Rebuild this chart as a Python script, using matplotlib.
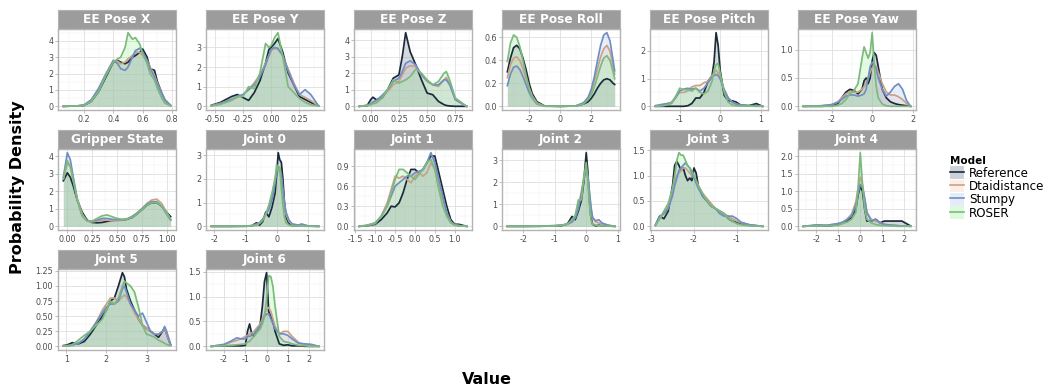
import numpy as np
import matplotlib
matplotlib.use("Agg")
import matplotlib.pyplot as plt
from matplotlib.patches import Rectangle, Patch
from matplotlib.lines import Line2D
from matplotlib.ticker import MultipleLocator

plt.rcParams["font.family"] = "DejaVu Sans"
plt.rcParams["axes.unicode_minus"] = False

models = ["Reference", "Dtaidistance", "Stumpy", "ROSER"]
line_colors = ["#1c2a3b", "#c9a28a", "#6f8fc3", "#7cba7c"]
fill_colors = ["#5d6d7e", "#f5c7a9", "#a8c2ee", "#90f090"]

# --- density curves, one x grid + four models per variable ---
pose_x_x = [0.06, 0.15, 0.2, 0.25, 0.3, 0.35, 0.4, 0.43, 0.45, 0.48, 0.5, 0.53, 0.55, 0.58, 0.6, 0.63, 0.65, 0.68, 0.7, 0.73, 0.75, 0.79]
pose_x_ref = [0, 0.02, 0.05, 0.3, 0.9, 1.8, 2.7, 2.8, 2.7, 2.6, 2.7, 3.0, 3.1, 3.3, 3.5, 3.0, 2.3, 2.2, 1.5, 0.8, 0.4, 0.05]
pose_x_dtai = [0, 0.02, 0.08, 0.35, 1.0, 1.9, 2.8, 2.75, 2.6, 2.7, 2.9, 3.1, 3.3, 3.3, 3.1, 2.8, 2.4, 1.9, 1.4, 0.8, 0.4, 0.05]
pose_x_stumpy = [0, 0.02, 0.08, 0.4, 1.1, 2.0, 2.8, 2.6, 2.3, 2.2, 2.4, 3.0, 3.4, 3.55, 3.3, 2.8, 2.3, 1.8, 1.3, 0.8, 0.4, 0.05]
pose_x_roser = [0, 0.02, 0.05, 0.3, 0.9, 1.9, 2.7, 2.9, 3.0, 3.6, 4.5, 4.1, 4.2, 3.8, 3.2, 2.6, 2.0, 1.6, 1.1, 0.5, 0.2, 0.02]

pose_y_x = [-0.53, -0.45, -0.4, -0.35, -0.3, -0.25, -0.2, -0.15, -0.1, -0.05, -0.02, 0.0, 0.03, 0.06, 0.1, 0.15, 0.2, 0.25, 0.3, 0.35, 0.42]
pose_y_ref = [0.05, 0.2, 0.35, 0.5, 0.6, 0.45, 0.3, 0.7, 1.3, 2.2, 2.9, 3.0, 3.2, 3.45, 2.8, 1.7, 1.1, 0.5, 0.35, 0.2, 0.02]
pose_y_dtai = [0.03, 0.15, 0.25, 0.35, 0.45, 0.6, 0.85, 1.2, 1.6, 2.2, 2.6, 2.85, 2.95, 2.9, 2.6, 1.9, 1.2, 0.6, 0.45, 0.3, 0.02]
pose_y_stumpy = [0.03, 0.15, 0.25, 0.35, 0.5, 0.6, 0.85, 1.1, 1.5, 2.1, 2.6, 2.9, 3.0, 2.95, 2.6, 1.8, 1.1, 0.6, 0.85, 0.6, 0.02]
pose_y_roser = [0.02, 0.1, 0.2, 0.3, 0.5, 0.5, 1.0, 0.9, 1.7, 3.2, 3.0, 3.1, 3.5, 3.75, 2.6, 1.0, 0.7, 0.4, 0.2, 0.08, 0.01]

pose_z_x = [-0.1, -0.03, 0.0, 0.02, 0.05, 0.1, 0.15, 0.2, 0.25, 0.28, 0.31, 0.35, 0.4, 0.45, 0.5, 0.55, 0.6, 0.65, 0.67, 0.7, 0.75, 0.85]
pose_z_ref = [0, 0.05, 0.4, 0.55, 0.4, 0.5, 1.0, 1.7, 1.9, 3.0, 4.45, 3.3, 2.5, 1.6, 0.8, 0.7, 0.3, 0.1, 0.05, 0.02, 0.0, 0]
pose_z_dtai = [0, 0.05, 0.15, 0.25, 0.35, 0.6, 0.9, 1.3, 1.5, 1.9, 2.3, 2.45, 2.4, 1.9, 1.5, 1.3, 1.2, 1.6, 1.75, 1.4, 0.4, 0]
pose_z_stumpy = [0, 0.05, 0.15, 0.25, 0.35, 0.65, 1.0, 1.5, 1.7, 2.1, 2.6, 2.75, 2.5, 1.9, 1.55, 1.3, 1.3, 1.6, 1.6, 1.3, 0.4, 0]
pose_z_roser = [0, 0.05, 0.1, 0.15, 0.2, 0.5, 1.0, 1.6, 1.4, 1.5, 1.6, 1.8, 2.25, 2.0, 1.6, 1.3, 1.5, 2.0, 2.1, 1.6, 0.5, 0]

roll_x = [-3.4, -3.2, -3.0, -2.8, -2.6, -2.4, -2.2, -2.0, -1.8, -1.5, -1.0, 0, 1.0, 1.5, 1.8, 2.0, 2.2, 2.4, 2.6, 2.8, 3.0, 3.2, 3.4, 3.5]
roll_ref = [0.30, 0.42, 0.51, 0.53, 0.50, 0.42, 0.32, 0.20, 0.11, 0.04, 0.003, 0, 0.003, 0.02, 0.04, 0.07, 0.11, 0.16, 0.2, 0.23, 0.24, 0.23, 0.2, 0.19]
roll_dtai = [0.25, 0.36, 0.42, 0.43, 0.40, 0.33, 0.24, 0.16, 0.09, 0.03, 0.002, 0, 0.003, 0.03, 0.07, 0.13, 0.22, 0.33, 0.43, 0.50, 0.53, 0.48, 0.35, 0.28]
roll_stumpy = [0.18, 0.28, 0.34, 0.35, 0.32, 0.26, 0.19, 0.12, 0.07, 0.02, 0.001, 0, 0.003, 0.03, 0.08, 0.15, 0.26, 0.40, 0.53, 0.62, 0.64, 0.57, 0.40, 0.31]
roll_roser = [0.39, 0.55, 0.62, 0.60, 0.52, 0.40, 0.27, 0.16, 0.08, 0.02, 0.001, 0, 0.002, 0.02, 0.06, 0.10, 0.17, 0.26, 0.35, 0.42, 0.44, 0.40, 0.30, 0.24]

pitch_x = [-1.6, -1.4, -1.2, -1.1, -1.0, -0.9, -0.8, -0.7, -0.6, -0.5, -0.4, -0.3, -0.2, -0.15, -0.1, -0.05, 0.0, 0.1, 0.2, 0.3, 0.4, 0.5, 0.7, 0.9, 0.95, 1.05]
pitch_ref = [0, 0, 0, 0, 0, 0, 0.02, 0.1, 0.3, 0.3, 0.5, 0.9, 1.1, 1.6, 2.65, 2.2, 1.3, 0.4, 0.2, 0.2, 0.15, 0.05, 0.02, 0.1, 0.06, 0]
pitch_dtai = [0.02, 0.05, 0.15, 0.35, 0.5, 0.5, 0.55, 0.7, 0.75, 0.75, 0.85, 0.9, 1.1, 1.2, 1.3, 1.2, 1.0, 0.6, 0.3, 0.15, 0.08, 0.04, 0.02, 0.01, 0.01, 0]
pitch_stumpy = [0.02, 0.08, 0.12, 0.3, 0.55, 0.62, 0.65, 0.62, 0.65, 0.55, 0.65, 0.85, 1.05, 1.1, 1.15, 1.1, 1.0, 0.6, 0.3, 0.15, 0.08, 0.04, 0.03, 0.02, 0.02, 0]
pitch_roser = [0.0, 0.02, 0.1, 0.35, 0.65, 0.6, 0.6, 0.55, 0.65, 0.5, 0.45, 0.55, 0.9, 1.3, 1.5, 1.55, 1.2, 0.5, 0.15, 0.05, 0.02, 0.01, 0.01, 0, 0, 0]

yaw_x = [-3.4, -2.5, -2.0, -1.7, -1.5, -1.3, -1.1, -0.9, -0.7, -0.5, -0.4, -0.3, -0.2, -0.1, 0.0, 0.1, 0.2, 0.3, 0.5, 0.7, 0.9, 1.1, 1.3, 1.5, 1.7, 1.9]
yaw_ref = [0, 0, 0.01, 0.05, 0.15, 0.25, 0.3, 0.28, 0.22, 0.3, 0.45, 0.5, 0.4, 0.5, 0.8, 0.95, 0.9, 0.7, 0.3, 0.15, 0.08, 0.05, 0.03, 0.02, 0.01, 0]
yaw_dtai = [0, 0.01, 0.03, 0.08, 0.15, 0.22, 0.25, 0.25, 0.25, 0.3, 0.35, 0.42, 0.5, 0.6, 0.68, 0.72, 0.7, 0.6, 0.4, 0.25, 0.2, 0.2, 0.17, 0.12, 0.05, 0]
yaw_stumpy = [0, 0.01, 0.03, 0.07, 0.12, 0.18, 0.2, 0.2, 0.18, 0.2, 0.22, 0.3, 0.5, 0.7, 0.78, 0.75, 0.65, 0.5, 0.3, 0.18, 0.25, 0.35, 0.4, 0.3, 0.1, 0]
yaw_roser = [0, 0, 0, 0.02, 0.05, 0.12, 0.22, 0.28, 0.4, 0.85, 1.05, 0.95, 0.85, 0.95, 1.3, 0.75, 0.35, 0.15, 0.04, 0.01, 0, 0, 0, 0, 0, 0]

gripper_x = [-0.04, 0.0, 0.03, 0.06, 0.1, 0.15, 0.2, 0.25, 0.3, 0.35, 0.4, 0.45, 0.5, 0.55, 0.6, 0.65, 0.7, 0.75, 0.8, 0.85, 0.9, 0.95, 1.0, 1.04]
gripper_ref = [2.6, 3.05, 2.8, 2.3, 1.5, 0.8, 0.35, 0.22, 0.2, 0.22, 0.28, 0.33, 0.35, 0.35, 0.4, 0.5, 0.7, 0.95, 1.2, 1.35, 1.35, 1.15, 0.8, 0.55]
gripper_dtai = [2.7, 3.6, 3.4, 2.7, 1.6, 0.7, 0.3, 0.25, 0.3, 0.35, 0.35, 0.32, 0.33, 0.35, 0.4, 0.55, 0.75, 1.0, 1.3, 1.5, 1.55, 1.3, 0.8, 0.4]
gripper_stumpy = [2.8, 4.2, 3.8, 2.8, 1.5, 0.6, 0.3, 0.3, 0.35, 0.45, 0.45, 0.4, 0.38, 0.38, 0.42, 0.55, 0.75, 1.0, 1.25, 1.4, 1.4, 1.15, 0.7, 0.35]
gripper_roser = [2.7, 3.75, 3.4, 2.6, 1.5, 0.6, 0.3, 0.3, 0.45, 0.6, 0.65, 0.55, 0.45, 0.4, 0.42, 0.5, 0.7, 0.95, 1.2, 1.35, 1.35, 1.15, 0.75, 0.4]

j0_x = [-2.1, -1.5, -1.0, -0.8, -0.65, -0.55, -0.45, -0.35, -0.25, -0.15, -0.05, 0.0, 0.05, 0.1, 0.15, 0.2, 0.25, 0.3, 0.4, 0.5, 0.7, 0.8, 1.0, 1.35]
j0_ref = [0, 0, 0, 0.02, 0.15, 0.05, 0.2, 0.6, 0.4, 0.8, 1.4, 2.2, 3.1, 2.8, 2.7, 2.0, 1.0, 0.4, 0.1, 0.03, 0.02, 0.04, 0.01, 0]
j0_dtai = [0, 0, 0.01, 0.03, 0.08, 0.15, 0.3, 0.5, 0.8, 1.3, 2.0, 2.4, 2.5, 2.4, 2.0, 1.4, 0.9, 0.5, 0.2, 0.08, 0.05, 0.05, 0.02, 0]
j0_stumpy = [0, 0, 0.01, 0.03, 0.1, 0.15, 0.3, 0.5, 0.7, 1.1, 1.8, 2.3, 2.5, 2.4, 2.2, 1.6, 1.0, 0.6, 0.25, 0.1, 0.05, 0.1, 0.02, 0]
j0_roser = [0, 0, 0.01, 0.02, 0.05, 0.12, 0.25, 0.5, 0.9, 1.4, 2.0, 2.6, 2.3, 2.5, 1.6, 0.9, 0.4, 0.15, 0.05, 0.02, 0.01, 0.01, 0, 0]

j1_x = [-1.4, -1.2, -1.0, -0.85, -0.7, -0.6, -0.5, -0.4, -0.3, -0.2, -0.1, 0.0, 0.1, 0.2, 0.3, 0.4, 0.5, 0.6, 0.7, 0.8, 0.9, 1.0, 1.1, 1.3]
j1_ref = [0, 0.01, 0.03, 0.1, 0.2, 0.3, 0.29, 0.35, 0.5, 0.7, 0.85, 0.85, 0.8, 0.85, 0.95, 1.05, 1.05, 0.8, 0.55, 0.3, 0.1, 0.03, 0.03, 0]
j1_dtai = [0, 0.01, 0.04, 0.15, 0.35, 0.55, 0.75, 0.72, 0.75, 0.7, 0.65, 0.75, 0.8, 0.75, 0.8, 0.95, 0.85, 0.6, 0.4, 0.2, 0.07, 0.02, 0.01, 0]
j1_stumpy = [0, 0.01, 0.05, 0.15, 0.3, 0.45, 0.6, 0.65, 0.7, 0.75, 0.75, 0.8, 0.82, 0.85, 0.95, 1.1, 0.95, 0.7, 0.45, 0.2, 0.06, 0.02, 0.01, 0]
j1_roser = [0, 0.02, 0.05, 0.15, 0.3, 0.5, 0.7, 0.85, 0.85, 0.8, 0.75, 0.7, 0.78, 0.85, 0.95, 1.0, 0.85, 0.55, 0.3, 0.15, 0.05, 0.02, 0.01, 0]

j2_x = [-2.5, -2.0, -1.5, -1.0, -0.8, -0.6, -0.45, -0.35, -0.25, -0.15, -0.08, 0.0, 0.05, 0.1, 0.15, 0.2, 0.3, 0.4, 0.5, 0.7, 0.9]
j2_ref = [0, 0, 0, 0.02, 0.03, 0.1, 0.45, 0.3, 0.7, 1.2, 2.0, 3.35, 2.5, 1.2, 0.4, 0.1, 0.02, 0.05, 0.03, 0.01, 0]
j2_dtai = [0, 0, 0.01, 0.03, 0.05, 0.1, 0.2, 0.4, 0.9, 1.6, 2.2, 2.5, 2.2, 1.5, 0.8, 0.4, 0.2, 0.15, 0.1, 0.05, 0]
j2_stumpy = [0, 0, 0.01, 0.03, 0.05, 0.1, 0.2, 0.4, 0.8, 1.5, 2.1, 2.6, 2.3, 1.6, 0.9, 0.4, 0.25, 0.3, 0.15, 0.05, 0]
j2_roser = [0, 0, 0.01, 0.02, 0.04, 0.1, 0.3, 0.5, 1.2, 1.2, 2.2, 2.9, 2.0, 1.0, 0.3, 0.1, 0.05, 0.03, 0.02, 0.01, 0]

j3_x = [-2.9, -2.8, -2.7, -2.6, -2.5, -2.45, -2.4, -2.35, -2.3, -2.25, -2.2, -2.15, -2.1, -2.05, -2.0, -1.95, -1.9, -1.8, -1.7, -1.6, -1.5, -1.4, -1.3, -1.2, -1.1, -1.0, -0.9, -0.7, -0.4]
j3_ref = [0.02, 0.2, 0.15, 0.3, 0.8, 1.2, 1.28, 1.2, 1.1, 1.15, 1.0, 0.9, 0.95, 0.9, 1.15, 1.05, 0.8, 0.6, 0.5, 0.4, 0.35, 0.3, 0.25, 0.15, 0.1, 0.08, 0.05, 0.02, 0]
j3_dtai = [0.02, 0.15, 0.25, 0.4, 0.7, 0.9, 1.0, 1.05, 1.1, 1.15, 1.15, 1.1, 1.05, 1.0, 0.95, 0.9, 0.8, 0.65, 0.55, 0.45, 0.35, 0.3, 0.25, 0.2, 0.15, 0.1, 0.07, 0.03, 0]
j3_stumpy = [0.02, 0.2, 0.25, 0.35, 0.6, 0.8, 0.95, 1.1, 1.15, 1.2, 1.25, 1.2, 1.15, 1.05, 0.95, 0.85, 0.75, 0.6, 0.5, 0.4, 0.35, 0.25, 0.2, 0.2, 0.2, 0.15, 0.08, 0.03, 0]
j3_roser = [0.02, 0.15, 0.3, 0.45, 0.75, 1.0, 1.3, 1.45, 1.4, 1.4, 1.3, 1.2, 1.15, 1.1, 1.0, 0.9, 0.8, 0.65, 0.5, 0.4, 0.35, 0.3, 0.25, 0.15, 0.1, 0.05, 0.03, 0.01, 0]

j4_x = [-2.6, -2.0, -1.5, -1.0, -0.8, -0.6, -0.4, -0.2, -0.1, 0.0, 0.1, 0.2, 0.3, 0.5, 0.7, 0.9, 1.1, 1.3, 1.5, 1.7, 1.9, 2.1, 2.3]
j4_ref = [0, 0.02, 0.01, 0.05, 0.1, 0.15, 0.25, 0.5, 0.9, 1.15, 1.0, 0.5, 0.15, 0.15, 0.2, 0.1, 0.15, 0.15, 0.15, 0.15, 0.15, 0.08, 0.01]
j4_dtai = [0, 0.03, 0.03, 0.08, 0.12, 0.2, 0.35, 0.7, 1.1, 1.4, 1.2, 0.8, 0.4, 0.2, 0.15, 0.1, 0.06, 0.04, 0.03, 0.02, 0.01, 0.01, 0]
j4_stumpy = [0, 0.04, 0.03, 0.08, 0.12, 0.2, 0.3, 0.6, 0.95, 1.2, 1.1, 0.8, 0.4, 0.15, 0.2, 0.1, 0.05, 0.04, 0.03, 0.02, 0.01, 0.01, 0]
j4_roser = [0, 0.01, 0.01, 0.03, 0.08, 0.12, 0.2, 0.4, 1.1, 2.1, 1.2, 0.5, 0.2, 0.1, 0.05, 0.03, 0.02, 0.01, 0.01, 0, 0, 0, 0]

j5_x = [0.93, 1.05, 1.15, 1.3, 1.45, 1.6, 1.75, 1.9, 2.0, 2.1, 2.2, 2.3, 2.4, 2.45, 2.5, 2.6, 2.7, 2.8, 2.9, 3.0, 3.1, 3.2, 3.3, 3.4, 3.45, 3.5, 3.6]
j5_ref = [0.01, 0.03, 0.06, 0.04, 0.08, 0.2, 0.35, 0.5, 0.6, 0.75, 0.8, 1.0, 1.22, 1.15, 0.95, 0.75, 0.6, 0.45, 0.35, 0.3, 0.25, 0.2, 0.15, 0.25, 0.3, 0.2, 0.02]
j5_dtai = [0.01, 0.01, 0.02, 0.05, 0.12, 0.25, 0.4, 0.6, 0.7, 0.8, 0.8, 0.75, 0.82, 0.85, 0.82, 0.7, 0.55, 0.45, 0.35, 0.3, 0.25, 0.2, 0.2, 0.25, 0.3, 0.2, 0.02]
j5_stumpy = [0.01, 0.01, 0.02, 0.05, 0.12, 0.25, 0.4, 0.55, 0.65, 0.7, 0.7, 0.75, 0.95, 1.0, 0.9, 0.7, 0.6, 0.5, 0.55, 0.4, 0.25, 0.2, 0.2, 0.25, 0.33, 0.25, 0.03]
j5_roser = [0.01, 0.01, 0.02, 0.1, 0.18, 0.25, 0.35, 0.45, 0.6, 0.75, 0.7, 0.8, 1.0, 1.08, 1.05, 1.0, 0.9, 0.65, 0.35, 0.2, 0.18, 0.15, 0.1, 0.07, 0.05, 0.03, 0.01]

j6_x = [-2.6, -2.0, -1.7, -1.4, -1.2, -1.0, -0.9, -0.8, -0.7, -0.6, -0.5, -0.4, -0.3, -0.2, -0.1, 0.0, 0.1, 0.2, 0.3, 0.4, 0.6, 0.8, 1.0, 1.2, 1.5, 1.8, 2.1, 2.45]
j6_ref = [0, 0.01, 0.01, 0.01, 0.01, 0.02, 0.3, 0.45, 0.25, 0.2, 0.3, 0.35, 0.45, 0.8, 1.3, 1.48, 0.7, 0.6, 0.5, 0.3, 0.05, 0.02, 0.03, 0.01, 0.01, 0, 0, 0]
j6_dtai = [0, 0.03, 0.08, 0.12, 0.15, 0.2, 0.22, 0.25, 0.27, 0.3, 0.35, 0.4, 0.45, 0.55, 0.65, 0.75, 0.78, 0.7, 0.55, 0.4, 0.25, 0.3, 0.3, 0.2, 0.08, 0.03, 0.02, 0]
j6_stumpy = [0, 0.04, 0.1, 0.17, 0.15, 0.15, 0.2, 0.2, 0.22, 0.25, 0.3, 0.35, 0.4, 0.5, 0.6, 0.65, 0.65, 0.55, 0.45, 0.35, 0.25, 0.25, 0.22, 0.15, 0.06, 0.05, 0.04, 0]
j6_roser = [0, 0.01, 0.02, 0.03, 0.04, 0.05, 0.08, 0.1, 0.15, 0.2, 0.25, 0.3, 0.35, 0.45, 0.6, 0.95, 1.42, 1.4, 1.2, 0.8, 0.2, 0.1, 0.08, 0.05, 0.02, 0.01, 0, 0]

titles = ["EE Pose X", "EE Pose Y", "EE Pose Z", "EE Pose Roll", "EE Pose Pitch", "EE Pose Yaw",
          "Gripper State", "Joint 0", "Joint 1", "Joint 2", "Joint 3", "Joint 4", "Joint 5", "Joint 6"]
x_steps = [0.2, 0.25, 0.25, 2, 1, 2, 0.25, 1, 0.5, 1, 1, 1, 1, 1]
y_steps = [1, 1, 1, 0.2, 1, 0.5, 1, 1, 0.3, 1, 0.5, 0.5, 0.25, 0.5]

panels = [
    (pose_x_x, [pose_x_ref, pose_x_dtai, pose_x_stumpy, pose_x_roser]),
    (pose_y_x, [pose_y_ref, pose_y_dtai, pose_y_stumpy, pose_y_roser]),
    (pose_z_x, [pose_z_ref, pose_z_dtai, pose_z_stumpy, pose_z_roser]),
    (roll_x, [roll_ref, roll_dtai, roll_stumpy, roll_roser]),
    (pitch_x, [pitch_ref, pitch_dtai, pitch_stumpy, pitch_roser]),
    (yaw_x, [yaw_ref, yaw_dtai, yaw_stumpy, yaw_roser]),
    (gripper_x, [gripper_ref, gripper_dtai, gripper_stumpy, gripper_roser]),
    (j0_x, [j0_ref, j0_dtai, j0_stumpy, j0_roser]),
    (j1_x, [j1_ref, j1_dtai, j1_stumpy, j1_roser]),
    (j2_x, [j2_ref, j2_dtai, j2_stumpy, j2_roser]),
    (j3_x, [j3_ref, j3_dtai, j3_stumpy, j3_roser]),
    (j4_x, [j4_ref, j4_dtai, j4_stumpy, j4_roser]),
    (j5_x, [j5_ref, j5_dtai, j5_stumpy, j5_roser]),
    (j6_x, [j6_ref, j6_dtai, j6_stumpy, j6_roser]),
]

W, H = 1049, 392
fig = plt.figure(figsize=(W / 100, H / 100), dpi=100)

border = "#b3b3b3"
strip_bg = "#9c9c9c"

for i, (xs, curves) in enumerate(panels):
    row, col = divmod(i, 6)
    left = 58 + 148 * col
    top = 29 + 120 * row
    ax = fig.add_axes([left / W, 1 - (top + 81) / H, 118 / W, 81 / H])
    for ys, lc, fc in zip(curves, line_colors, fill_colors):
        ax.fill_between(xs, ys, color=fc, alpha=0.25, linewidth=0)
        ax.plot(xs, ys, color=lc, lw=1.25)
    ax.margins(x=0.05, y=0.05)

    ax.xaxis.set_major_locator(MultipleLocator(x_steps[i]))
    ax.yaxis.set_major_locator(MultipleLocator(y_steps[i]))
    ax.xaxis.set_minor_locator(MultipleLocator(x_steps[i] / 2))
    ax.yaxis.set_minor_locator(MultipleLocator(y_steps[i] / 2))
    ax.grid(which="major", color="#dedede", lw=0.6)
    ax.grid(which="minor", color="#f0f0f0", lw=0.35)
    ax.set_axisbelow(True)
    ax.tick_params(which="major", labelsize=5.8, labelcolor="#4d4d4d", color=border,
                   length=2, width=0.6, pad=1.5)
    ax.tick_params(which="minor", length=0)
    for sp in ax.spines.values():
        sp.set_color(border)
        sp.set_linewidth(1.0)

    # facet strip
    ax.add_patch(Rectangle((0, 1), 1, 19 / 81, transform=ax.transAxes, clip_on=False,
                           facecolor=strip_bg, edgecolor=border, lw=0.8))
    ax.text(0.5, 1 + 9.5 / 81, titles[i], transform=ax.transAxes, ha="center", va="center",
            color="white", fontsize=8.7, fontweight="bold")

fig.text(487 / W, 1 - 379 / H, "Value", ha="center", va="center",
         fontsize=11.5, fontweight="bold")
fig.text(18 / W, 1 - 187 / H, "Probability Density", ha="center", va="center",
         rotation=90, fontsize=11.5, fontweight="bold")

handles = [(Patch(facecolor=fc, alpha=0.3, edgecolor="none"), Line2D([], [], color=lc, lw=1.2))
           for lc, fc in zip(line_colors, fill_colors)]
leg = fig.legend(handles, models, loc="upper left", bbox_to_anchor=(942 / W, 1 - 148 / H),
                 frameon=False, title="Model", fontsize=8.6, handlelength=1.1,
                 handleheight=1.25, handletextpad=0.45, labelspacing=0.0, borderpad=0.2)
leg.get_title().set_fontweight("bold")
leg.get_title().set_fontsize(7.5)
leg._legend_box.align = "left"

fig.savefig("out.png", dpi=100)
